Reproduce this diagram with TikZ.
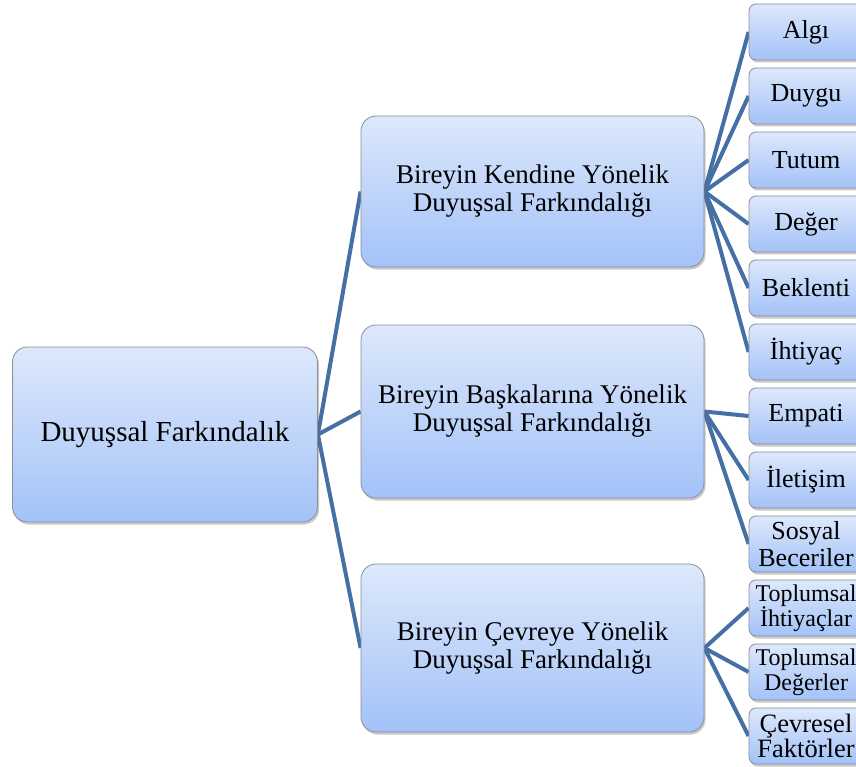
\documentclass[tikz,border=0pt]{standalone}
\usepackage{fontspec}
\setmainfont{Liberation Serif}
\usetikzlibrary{shadows,backgrounds}
\definecolor{boxtop}{HTML}{DDE8FB}
\definecolor{boxbot}{HTML}{A3C2F8}
\definecolor{boxline}{HTML}{8A8E96}
\definecolor{conncol}{HTML}{4470A6}
\tikzset{
  box/.style={draw=boxline, line width=0.8pt, top color=boxtop, bottom color=boxbot,
    drop shadow={shadow xshift=1.5pt, shadow yshift=-2.5pt, opacity=0.35, fill=black!60},
    align=center, inner sep=2pt, font=\fontsize{26}{27}\selectfont},
  bigbox/.style={box, rounded corners=15pt, font=\fontsize{27}{28}\selectfont},
  leafbox/.style={box, rounded corners=7pt, minimum width=114pt, minimum height=56pt},
  smallfont/.style={font=\fontsize{24}{25}\selectfont},
  conn/.style={draw=conncol, line width=4pt}
}
\begin{document}
\begin{tikzpicture}[x=1pt,y=-1pt]
\useasboundingbox (0,0) rectangle (856,767);
\node[bigbox, minimum width=305pt, minimum height=175pt, font=\fontsize{29}{30}\selectfont] (root) at (165,434.5) {Duyuşsal Farkındalık};
\node[bigbox, minimum width=343pt, minimum height=151pt] (m1) at (532.5,191.5) {Bireyin Kendine Yönelik\\Duyuşsal Farkındalığı};
\node[bigbox, minimum width=343pt, minimum height=173pt] (m2) at (532.5,411.5) {Bireyin Başkalarına Yönelik\\Duyuşsal Farkındalığı};
\node[bigbox, minimum width=343pt, minimum height=168pt] (m3) at (532.5,648) {Bireyin Çevreye Yönelik\\Duyuşsal Farkındalığı};
\node[leafbox] (l1) at (806,32) {Algı};
\node[leafbox] (l2) at (806,96) {Duygu};
\node[leafbox] (l3) at (806,160) {Tutum};
\node[leafbox] (l4) at (806,224) {Değer};
\node[leafbox] (l5) at (806,288) {Beklenti};
\node[leafbox] (l6) at (806,352) {İhtiyaç};
\node[leafbox] (l7) at (806,416) {Empati};
\node[leafbox] (l8) at (806,480) {İletişim};
\node[leafbox] (l9) at (806,544) {Sosyal\\Beceriler};
\node[leafbox, smallfont] (l10) at (806,608) {Toplumsal\\İhtiyaçlar};
\node[leafbox, smallfont] (l11) at (806,672) {Toplumsal\\Değerler};
\node[leafbox, font=\fontsize{26.5}{23}\selectfont] (l12) at (806,736) {Çevresel\\Faktörler};
\begin{scope}[on background layer]
\fill[white] (0,0) rectangle (856,767);
\foreach \m in {m1,m2,m3} \draw[conn] (root.east) -- (\m.west);
\foreach \l in {l1,l2,l3,l4,l5,l6} \draw[conn] (m1.east) -- (\l.west);
\foreach \l in {l7,l8,l9} \draw[conn] (m2.east) -- (\l.west);
\foreach \l in {l10,l11,l12} \draw[conn] (m3.east) -- (\l.west);
\end{scope}
\end{tikzpicture}
\end{document}
